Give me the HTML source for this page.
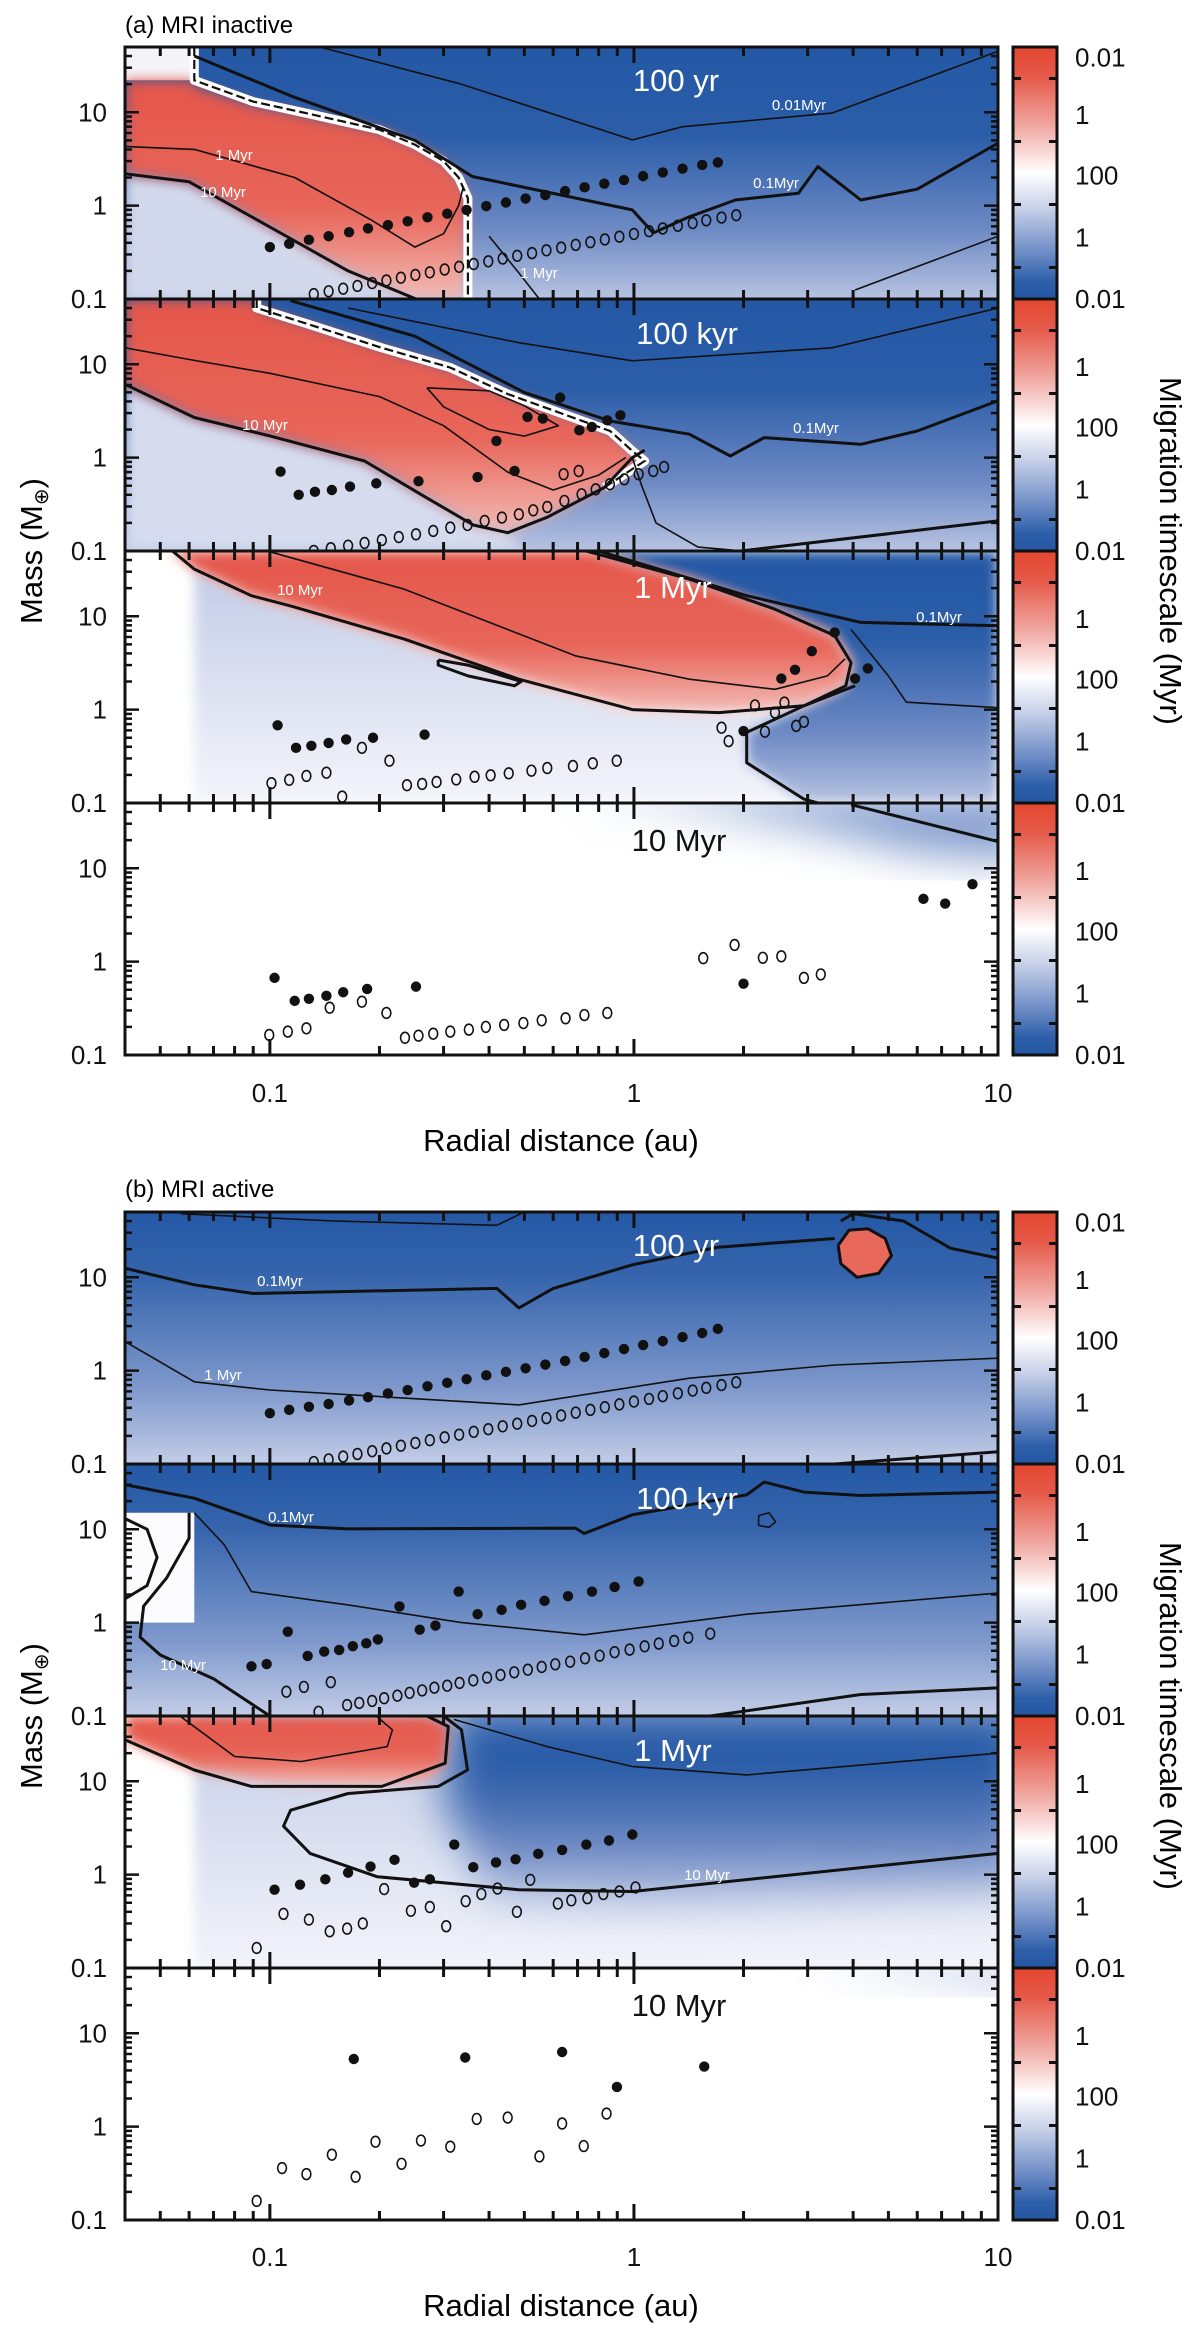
<!DOCTYPE html>
<html><head><meta charset="utf-8">
<style>
html,body{margin:0;padding:0;background:#fff}
svg{display:block}
text{font-family:"Liberation Sans",sans-serif}
</style></head>
<body>
<svg id="fig" width="1200" height="2335" viewBox="0 0 1200 2335" xmlns="http://www.w3.org/2000/svg">
<defs>
 <linearGradient id="blueGrad" x1="0" y1="0" x2="0" y2="1">
  <stop offset="0" stop-color="#2458a5"/><stop offset="0.35" stop-color="#2b5da8"/>
  <stop offset="0.72" stop-color="#6c89c4"/><stop offset="1" stop-color="#b7c3e1"/>
 </linearGradient>
 <linearGradient id="blueGradB" x1="0" y1="0" x2="0" y2="1">
  <stop offset="0" stop-color="#2458a5"/><stop offset="0.25" stop-color="#3564ac"/>
  <stop offset="0.7" stop-color="#7e98cc"/><stop offset="1" stop-color="#c3cde7"/>
 </linearGradient>
 <linearGradient id="redGrad" x1="0" y1="0" x2="0" y2="1">
  <stop offset="0" stop-color="#e4564a"/><stop offset="0.6" stop-color="#e8665a"/><stop offset="1" stop-color="#f3bcb6"/>
 </linearGradient>
 <linearGradient id="paleGrad" x1="0" y1="0" x2="0" y2="1">
  <stop offset="0" stop-color="#c3cde7"/><stop offset="1" stop-color="#f4f5fb"/>
 </linearGradient>
 <linearGradient id="cbGrad" x1="0" y1="0" x2="0" y2="1">
  <stop offset="0" stop-color="#e4472f"/><stop offset="0.12" stop-color="#e55a4a"/>
  <stop offset="0.32" stop-color="#f0aaa4"/><stop offset="0.5" stop-color="#ffffff"/>
  <stop offset="0.64" stop-color="#c7d0e8"/><stop offset="0.82" stop-color="#6c8bc5"/>
  <stop offset="0.93" stop-color="#2d5fa9"/><stop offset="1" stop-color="#2456a3"/>
 </linearGradient>
 <filter id="blur6" x="-20%" y="-20%" width="140%" height="140%"><feGaussianBlur stdDeviation="6"/></filter>
 <filter id="blur20" x="-30%" y="-30%" width="160%" height="160%"><feGaussianBlur stdDeviation="22"/></filter>
</defs>
<g id="plots"></g>

<text x="125" y="33" font-size="24">(a) MRI inactive</text>
<text x="125" y="1197" font-size="24">(b) MRI active</text>
<text x="561" y="1151" font-size="31" text-anchor="middle">Radial distance (au)</text>
<text x="561" y="2316" font-size="31" text-anchor="middle">Radial distance (au)</text>
<text transform="translate(42,551) rotate(-90)" font-size="31" text-anchor="middle">Mass (M<tspan font-size="20" dy="6">⊕</tspan><tspan dy="-6">)</tspan></text>
<text transform="translate(42,1716) rotate(-90)" font-size="31" text-anchor="middle">Mass (M<tspan font-size="20" dy="6">⊕</tspan><tspan dy="-6">)</tspan></text>
<text transform="translate(1160,551) rotate(90)" font-size="31" text-anchor="middle">Migration timescale (Myr)</text>
<text transform="translate(1160,1716) rotate(90)" font-size="31" text-anchor="middle">Migration timescale (Myr)</text>

<g font-size="31" fill="#fff" text-anchor="middle">
<text x="676" y="91">100 yr</text>
<text x="687" y="344">100 kyr</text>
<text x="673" y="598">1 Myr</text>
<text x="679" y="851" fill="#111">10 Myr</text>
<text x="676" y="1256">100 yr</text>
<text x="687" y="1509">100 kyr</text>
<text x="673" y="1761">1 Myr</text>
<text x="679" y="2016" fill="#111">10 Myr</text>
</g>
<g font-size="15" fill="#fff" text-anchor="middle">
<text x="234" y="160">1 Myr</text>
<text x="223" y="197">10 Myr</text>
<text x="799" y="110">0.01Myr</text>
<text x="776" y="188">0.1Myr</text>
<text x="539" y="278">1 Myr</text>
<text x="265" y="430">10 Myr</text>
<text x="816" y="433">0.1Myr</text>
<text x="300" y="595">10 Myr</text>
<text x="939" y="622">0.1Myr</text>
<text x="280" y="1286">0.1Myr</text>
<text x="223" y="1380">1 Myr</text>
<text x="291" y="1522">0.1Myr</text>
<text x="183" y="1670">10 Myr</text>
<text x="707" y="1880">10 Myr</text>
</g>
</svg>

<script>
// ---------- axis data ----------
const xTickVals = [0.1, 1, 10];
const xTickText = ['0.1', '1', '10'];
const yTickVals = [0.1, 1, 10];
const yTickText = ['0.1', '1', '10'];
const cbText = ['0.01', '1', '100', '1', '0.01'];

// ---------- planet data (au, Earth masses) ----------
const a1FilledX = [0.100,0.113,0.128,0.145,0.165,0.186,0.211,0.239,0.271,0.307,0.347,0.393,0.445,0.504,0.571,0.647,0.732,0.829,0.939,1.06,1.20,1.36,1.54,1.70];
const a1FilledM = [0.36,0.39,0.43,0.47,0.52,0.57,0.62,0.68,0.75,0.82,0.90,0.99,1.08,1.19,1.30,1.43,1.57,1.72,1.88,2.07,2.27,2.49,2.73,2.9];
const a1OpenX = [0.132,0.145,0.159,0.174,0.191,0.209,0.229,0.251,0.275,0.302,0.331,0.363,0.398,0.436,0.478,0.525,0.575,0.631,0.692,0.759,0.832,0.912,1.00,1.10,1.20,1.32,1.45,1.58,1.74,1.91];
const a1OpenM = [0.113,0.121,0.129,0.138,0.148,0.158,0.169,0.181,0.193,0.207,0.221,0.237,0.253,0.271,0.290,0.310,0.332,0.355,0.380,0.406,0.434,0.465,0.497,0.532,0.569,0.609,0.651,0.697,0.745,0.79];

const a2FilledX = [0.107,0.120,0.133,0.148,0.166,0.196,0.256,0.372,0.419,0.470,0.510,0.562,0.627,0.708,0.766,0.845,0.918];
const a2FilledM = [0.71,0.40,0.43,0.45,0.49,0.53,0.56,0.62,1.51,0.72,2.73,2.62,4.4,1.96,2.13,2.51,2.84];
const a2OpenX = [0.132,0.147,0.164,0.182,0.203,0.226,0.252,0.281,0.313,0.349,0.389,0.434,0.483,0.529,0.578,0.644,0.718,0.785,0.859,0.941,1.03,1.13,1.21,0.641,0.705];
const a2OpenM = [0.10,0.107,0.114,0.122,0.131,0.141,0.151,0.164,0.178,0.190,0.210,0.228,0.247,0.273,0.296,0.344,0.405,0.458,0.519,0.586,0.664,0.719,0.794,0.664,0.719];

const a3FilledX = [0.105,0.118,0.130,0.145,0.162,0.192,0.266,2.0,2.54,2.77,3.08,3.56,4.05,4.39];
const a3FilledM = [0.68,0.39,0.41,0.44,0.48,0.50,0.54,0.59,2.15,2.67,4.23,6.7,2.15,2.76];
const a3OpenX = [0.101,0.113,0.126,0.143,0.158,0.179,0.213,0.238,0.262,0.287,0.325,0.365,0.404,0.453,0.523,0.578,0.680,0.771,0.897,1.74,1.82,2.15,2.44,2.29,2.59,2.79,2.93];
const a3OpenM = [0.163,0.177,0.195,0.211,0.117,0.39,0.284,0.155,0.160,0.168,0.179,0.191,0.198,0.208,0.222,0.237,0.249,0.266,0.284,0.64,0.46,1.11,0.93,0.58,1.19,0.67,0.74];

const a4FilledX = [0.103,0.117,0.128,0.143,0.159,0.185,0.252,2.0,6.24,7.16,8.51];
const a4FilledM = [0.67,0.38,0.40,0.43,0.47,0.51,0.54,0.58,4.7,4.19,6.75];
const a4OpenX = [0.0996,0.112,0.126,0.146,0.179,0.209,0.235,0.256,0.281,0.313,0.352,0.392,0.440,0.497,0.558,0.649,0.731,0.845,1.55,1.89,2.26,2.54,2.93,3.26];
const a4OpenM = [0.164,0.178,0.193,0.321,0.372,0.282,0.153,0.161,0.169,0.178,0.187,0.200,0.210,0.220,0.235,0.247,0.268,0.282,1.09,1.51,1.10,1.14,0.67,0.73];

const b1FilledX = [0.100,0.113,0.128,0.145,0.165,0.186,0.211,0.239,0.271,0.307,0.347,0.393,0.445,0.504,0.571,0.647,0.732,0.829,0.939,1.06,1.20,1.36,1.54,1.70];
const b1FilledM = [0.35,0.38,0.41,0.44,0.48,0.52,0.57,0.62,0.68,0.74,0.81,0.89,0.97,1.06,1.16,1.27,1.40,1.54,1.70,1.88,2.07,2.29,2.53,2.8];
const b1OpenX = [0.132,0.145,0.159,0.174,0.191,0.209,0.229,0.251,0.275,0.302,0.331,0.363,0.398,0.436,0.478,0.525,0.575,0.631,0.692,0.759,0.832,0.912,1.00,1.10,1.20,1.32,1.45,1.58,1.74,1.91];
const b1OpenM = [0.105,0.112,0.120,0.128,0.137,0.147,0.157,0.168,0.180,0.193,0.206,0.221,0.236,0.253,0.270,0.289,0.310,0.331,0.355,0.380,0.406,0.435,0.466,0.498,0.533,0.571,0.611,0.654,0.700,0.75];

const b2FilledX = [0.089,0.098,0.112,0.127,0.141,0.155,0.169,0.184,0.198,0.227,0.258,0.285,0.330,0.372,0.433,0.490,0.568,0.659,0.767,0.885,1.03];
const b2FilledM = [0.34,0.36,0.80,0.44,0.49,0.51,0.56,0.60,0.66,1.49,0.84,0.93,2.15,1.23,1.37,1.55,1.71,1.92,2.15,2.41,2.76];
const b2OpenX = [0.111,0.124,0.147,0.136,0.163,0.176,0.191,0.206,0.224,0.242,0.262,0.283,0.307,0.332,0.362,0.395,0.430,0.469,0.511,0.558,0.608,0.668,0.734,0.805,0.885,0.973,1.07,1.17,1.29,1.41,1.62];
const b2OpenM = [0.182,0.205,0.230,0.111,0.131,0.138,0.145,0.155,0.165,0.177,0.188,0.201,0.211,0.226,0.241,0.258,0.275,0.294,0.313,0.335,0.358,0.382,0.415,0.443,0.482,0.514,0.558,0.596,0.637,0.691,0.762];

const b3FilledX = [0.103,0.121,0.142,0.164,0.189,0.220,0.249,0.275,0.321,0.362,0.418,0.473,0.546,0.635,0.740,0.854,0.99];
const b3FilledM = [0.69,0.78,0.89,1.05,1.22,1.44,0.82,0.89,2.10,1.20,1.35,1.46,1.67,1.84,2.10,2.32,2.69];
const b3OpenX = [0.092,0.109,0.128,0.146,0.163,0.180,0.206,0.244,0.275,0.305,0.345,0.381,0.422,0.477,0.519,0.618,0.673,0.745,0.824,0.912,1.01];
const b3OpenM = [0.164,0.38,0.33,0.247,0.264,0.30,0.70,0.41,0.45,0.28,0.52,0.62,0.71,0.40,0.88,0.49,0.53,0.56,0.62,0.66,0.73];

const b4FilledX = [0.170,0.344,0.635,0.898,1.56];
const b4FilledM = [5.3,5.5,6.3,2.66,4.4];
const b4OpenX = [0.092,0.108,0.126,0.148,0.172,0.195,0.230,0.260,0.313,0.370,0.450,0.550,0.635,0.728,0.841];
const b4OpenM = [0.16,0.36,0.31,0.50,0.29,0.69,0.40,0.71,0.61,1.21,1.25,0.48,1.08,0.62,1.38];

// ---------- field regions & contours (au, Earth masses) ----------
const a1RedRegion = [[0.04,22],[0.062,22],[0.062,19],[0.09,12],[0.13,9],[0.2,6.5],[0.25,4.5],[0.3,3],[0.33,2],[0.35,1.2],[0.34,0.1],[0.25,0.1],[0.164,0.2],[0.1,0.59],[0.06,1.8],[0.04,2.2]];
const a1PaleRegion = [[0.04,2.2],[0.06,1.8],[0.1,0.59],[0.164,0.2],[0.25,0.1],[0.04,0.1]];
const a1WhiteCorner = [[0.04,50],[0.062,50],[0.062,22],[0.04,22]];
const a1Stair = [[0.062,50],[0.062,22],[0.09,13],[0.13,9.5],[0.2,6.5],[0.25,4.5],[0.3,3],[0.33,2],[0.35,1.2],[0.35,0.1]];
const a1Thick10 = [[0.04,2.2],[0.06,1.8],[0.1,0.59],[0.164,0.2],[0.252,0.1]];
const a1Thin1 = [[0.04,4.3],[0.062,4.0],[0.117,2.0],[0.19,0.7],[0.25,0.36],[0.3,0.5],[0.33,1.0],[0.34,1.6]];
const a1Thick01 = [[0.062,40],[0.114,15],[0.25,5],[0.36,2.05],[0.99,0.9],[1.13,0.51],[1.42,0.76],[1.9,1.15],[2.83,1.36],[3.2,2.62],[4.2,1.15],[6.0,1.5],[10,4.66]];
const a1Thin001 = [[0.137,50],[0.336,20],[0.99,5.06],[1.36,7.0],[3.5,9.8],[10,45]];
const a1ThinBR1 = [[0.40,0.47],[0.483,0.19],[0.55,0.1]];
const a1ThinBR2 = [[4.05,0.125],[10,0.47]];

const a2RedRegion = [[0.04,50],[0.092,50],[0.092,40],[0.127,27],[0.203,15],[0.313,9.2],[0.45,4.8],[0.644,2.9],[0.86,1.93],[0.99,1.18],[1.07,0.92],[0.83,0.48],[0.578,0.23],[0.45,0.157],[0.362,0.19],[0.27,0.37],[0.182,0.92],[0.1,1.71],[0.062,2.69],[0.04,6.1]];
const a2PaleRegion = [[0.04,6.1],[0.062,2.69],[0.1,1.71],[0.182,0.92],[0.27,0.37],[0.362,0.19],[0.45,0.157],[0.5,0.1],[0.04,0.1]];
const a2Stair = [[0.092,50],[0.092,40],[0.127,27],[0.203,15],[0.313,9.2],[0.45,4.8],[0.644,2.9],[0.86,1.93],[0.99,1.18],[1.07,0.92],[0.83,0.48]];
const a2Thick10 = [[0.04,6.1],[0.062,2.69],[0.1,1.71],[0.182,0.92],[0.27,0.37],[0.362,0.19],[0.45,0.157],[0.578,0.23],[0.83,0.48],[0.99,1.0],[1.07,1.2]];
const a2Thin1 = [[0.04,15],[0.062,11],[0.1,8],[0.2,4.5],[0.3,2.2],[0.45,0.7],[0.6,0.45],[0.8,0.65],[0.95,1.0]];
const a2Loop = [[0.27,5.6],[0.4,5.2],[0.5,3.6],[0.62,2.2],[0.5,1.7],[0.4,2.0],[0.3,3.5],[0.27,5.6]];
const a2Thick01 = [[0.114,48],[0.25,20],[0.5,5],[0.86,2.47],[1.42,1.78],[1.84,1.04],[2.28,1.64],[4.2,1.39],[6.0,1.93],[10,4.06]];
const a2Thin001 = [[0.164,40],[0.483,17],[0.99,10.9],[3.5,15],[10,40]];
const a2ThinR = [[0.99,1.0],[1.05,0.5],[1.15,0.2],[1.5,0.11],[2,0.1]];
const a2ThickBR = [[1.97,0.1],[10,0.21]];

const a3BlueRegion = [[0.74,50],[10,50],[10,0.1],[2.93,0.1],[2.04,0.27],[2.04,0.57],[2.93,1.1],[3.82,1.8],[3.95,3.19],[3.56,6.2],[2.44,11.9],[1.42,25]];
const a3PaleRegion = [[0.062,32],[0.089,16.6],[0.114,12.9],[0.234,5.7],[0.483,2.12],[0.99,1.0],[1.71,0.93],[2.93,1.1],[2.04,0.57],[2.04,0.27],[2.93,0.1],[0.062,0.1]];
const a3RedRegion = [[0.054,50],[0.74,50],[1.42,25],[2.44,11.9],[3.56,6.2],[3.95,3.19],[3.82,1.8],[2.93,1.1],[1.71,0.93],[0.99,1.0],[0.483,2.12],[0.234,5.7],[0.114,12.9],[0.089,16.6],[0.062,32]];
const a3Thick10 = [[0.054,50],[0.062,32],[0.089,16.6],[0.114,12.9],[0.234,5.7],[0.483,2.12],[0.99,1.0],[1.71,0.93],[2.93,1.1],[3.82,1.8],[3.95,3.19],[3.56,6.2],[2.44,11.9],[1.42,25],[0.74,50]];
const a3Thin1 = [[0.1,49],[0.234,19.5],[0.69,3.77],[1.42,2.12],[2.44,1.65],[3.4,2.3],[3.8,3.5]];
const a3Thick01 = [[0.8,50],[2.04,16.6],[4.2,8.6],[10,7.9]];
const a3S = [[4.05,1.8],[2.93,1.1],[2.04,0.57],[2.04,0.27],[2.93,0.11],[3.2,0.1]];
const a3ThinR = [[3.95,7.2],[5.0,2.3],[5.6,1.2],[10,1.05]];
const a3Loop = [[0.29,3.4],[0.35,3.0],[0.49,2.0],[0.47,1.8],[0.35,2.3],[0.29,3.0],[0.29,3.4]];

const a4Fog = [[0.7,60],[12,60],[12,12],[6,15],[3,28],[1.5,45]];
const a4Thick = [[3.95,48],[10,19.3]];

const b1Blob = [[3.64,22],[3.9,32],[4.4,33],[4.9,26],[5.1,17],[4.7,11],[4.1,10],[3.7,14]];
const b1Thick01 = [[0.04,12.5],[0.062,8.3],[0.09,6.7],[0.42,7.6],[0.483,4.7],[0.6,7.6],[0.99,13.6],[1.7,21],[3.56,26]];
const b1Thick01b = [[3.7,40],[4.0,48],[5.5,40],[7.4,20.5],[10,16]];
const b1Thin = [[0.057,48],[0.15,40],[0.42,36],[0.5,50]];
const b1Thin1 = [[0.04,2.05],[0.062,0.76],[0.1,0.62],[0.483,0.43],[1.42,0.83],[3.56,1.15],[10,1.36]];
const b1ThickBR = [[3.56,0.1],[10,0.135]];

const b2WhiteRegion = [[0.04,15],[0.062,15],[0.062,1.0],[0.04,1.0]];
const b2Thick01 = [[0.04,30],[0.062,21.5],[0.1,11.1],[0.164,10.1],[0.69,10.3],[0.73,9.0],[0.99,14.3],[2.04,23.4],[2.28,32],[2.93,25],[4.2,23],[10,25]];
const b2Thin = [[0.062,15],[0.075,6.8],[0.089,2.15],[0.164,1.55],[0.336,1.0],[0.73,0.74],[2.04,1.23],[10,2.07]];
const b2Thick10 = [[0.06,15],[0.06,8],[0.052,3],[0.045,1.5],[0.044,0.7],[0.05,0.45],[0.07,0.25],[0.1,0.1]];
const b2Inner = [[0.04,13],[0.046,10],[0.049,5],[0.046,2.5],[0.04,1.8]];
const b2Small = [[2.2,14],[2.35,15],[2.45,12],[2.35,10.5],[2.2,11],[2.2,14]];
const b2ThickBR = [[1.62,0.1],[4.2,0.17],[10,0.2]];

const b3PaleRegion = [[0.062,60],[12,60],[12,0.08],[0.062,0.08]];
const b3BlueRegion = [[0.32,60],[12,60],[12,0.7],[0.99,0.5],[0.4,0.6],[0.3,6]];
const b3RedRegion = [[0.04,50],[0.27,50],[0.309,38.6],[0.303,15.6],[0.27,10],[0.203,8.8],[0.1,9.5],[0.062,13.2],[0.04,27.8]];
const b3Thick1 = [[0.04,27.8],[0.062,13.2],[0.089,8.8],[0.203,8.8],[0.303,15.6],[0.309,38.6],[0.27,50]];
const b3Thin = [[0.057,49],[0.08,18.4],[0.122,16.3],[0.21,23.5],[0.217,35.6],[0.196,50]];
const b3Thick10 = [[0.3,50],[0.336,35.6],[0.349,13.2],[0.29,8.8],[0.164,7.4],[0.114,4.9],[0.109,3.3],[0.129,1.69],[0.197,0.95],[0.483,0.69],[0.99,0.66],[10,1.69]];
const b3ThinR = [[0.32,46],[0.578,23.5],[0.99,14.4],[2.04,11.7],[10,20]];

const b4Fog = [[3,60],[12,60],[12,30]];

// ---------- scales ----------
const X0 = 125, X1 = 998, H = 252;
const XMINL = Math.log10(0.04), XMAXL = 1;
const YMINL = -1, YMAXL = Math.log10(50);
function sx(a){ return X0 + (Math.log10(a) - XMINL) / (XMAXL - XMINL) * (X1 - X0); }
function sy(m, top){ return top + H - (Math.log10(m) - YMINL) / (YMAXL - YMINL) * H; }

const NS = 'http://www.w3.org/2000/svg';
const root = document.getElementById('plots');
function mk(tag, attrs, parent){
  const e = document.createElementNS(NS, tag);
  for (const k in attrs) e.setAttribute(k, attrs[k]);
  (parent || root).appendChild(e);
  return e;
}
function pathD(pts, top, close){
  let d = pts.map((p,i)=> (i?'L':'M') + sx(p[0]).toFixed(1) + ',' + sy(p[1],top).toFixed(1)).join(' ');
  return close ? d + ' Z' : d;
}

const panels = [
  {id:'a1', top:47, base:'url(#blueGrad)',
   regions:[[a1PaleRegion,'#d3d9ec','blur6'],[a1WhiteCorner,'#f4f4f8',''],[a1RedRegion,'url(#redGrad)','blur6']],
   stairs:[a1Stair],
   lines:[[a1Thick10,3],[a1Thin1,1.6],[a1Thick01,3],[a1Thin001,1.6],[a1ThinBR1,1.6],[a1ThinBR2,1.6]],
   fx:a1FilledX, fm:a1FilledM, ox:a1OpenX, om:a1OpenM},
  {id:'a2', top:299, base:'url(#blueGrad)',
   regions:[[a2PaleRegion,'#d6dcee','blur6'],[a2RedRegion,'url(#redGrad)','blur6']],
   stairs:[a2Stair],
   lines:[[a2Thick10,3],[a2Thin1,1.6],[a2Loop,1.6],[a2Thick01,3],[a2Thin001,1.6],[a2ThinR,1.6],[a2ThickBR,3]],
   fx:a2FilledX, fm:a2FilledM, ox:a2OpenX, om:a2OpenM},
  {id:'a3', top:551, base:'#ffffff',
   regions:[[a3PaleRegion,'url(#paleGrad)','blur6'],[a3BlueRegion,'url(#blueGrad)','blur6'],[a3RedRegion,'url(#redGrad)','blur6']],
   stairs:[],
   lines:[[a3Thick10,3],[a3Thin1,1.6],[a3Thick01,3],[a3S,3],[a3ThinR,1.6],[a3Loop,3]],
   fx:a3FilledX, fm:a3FilledM, ox:a3OpenX, om:a3OpenM},
  {id:'a4', top:803, base:'#ffffff',
   regions:[[a4Fog,'#7f99cc','blur20']],
   stairs:[],
   lines:[[a4Thick,3]],
   fx:a4FilledX, fm:a4FilledM, ox:a4OpenX, om:a4OpenM},
  {id:'b1', top:1212, base:'url(#blueGradB)',
   regions:[[b1Blob,'#e8685c','']],
   stairs:[],
   lines:[[b1Blob.concat([b1Blob[0]]),3],[b1Thick01,3],[b1Thick01b,3],[b1Thin,1.6],[b1Thin1,1.6],[b1ThickBR,3]],
   fx:b1FilledX, fm:b1FilledM, ox:b1OpenX, om:b1OpenM},
  {id:'b2', top:1464, base:'url(#blueGradB)',
   regions:[[b2WhiteRegion,'#fbfbfd','']],
   stairs:[],
   lines:[[b2Thick01,3],[b2Thin,1.6],[b2Thick10,3],[b2Inner,3],[b2Small,1.6],[b2ThickBR,3]],
   fx:b2FilledX, fm:b2FilledM, ox:b2OpenX, om:b2OpenM},
  {id:'b3', top:1716, base:'#ffffff',
   regions:[[b3PaleRegion,'url(#paleGrad)','blur6'],[b3BlueRegion,'url(#blueGrad)','blur20'],[b3RedRegion,'url(#redGrad)','blur6']],
   stairs:[],
   lines:[[b3Thick1,3],[b3Thin,1.6],[b3Thick10,3],[b3ThinR,1.6]],
   fx:b3FilledX, fm:b3FilledM, ox:b3OpenX, om:b3OpenM},
  {id:'b4', top:1968, base:'#ffffff',
   regions:[[b4Fog,'#b9c6e4','blur20']],
   stairs:[],
   lines:[],
   fx:b4FilledX, fm:b4FilledM, ox:b4OpenX, om:b4OpenM}
];

const defs = document.querySelector('defs');
const minorX = [0.05,0.06,0.07,0.08,0.09,0.2,0.3,0.4,0.5,0.6,0.7,0.8,0.9,2,3,4,5,6,7,8,9];
const minorY = [0.2,0.3,0.4,0.5,0.6,0.7,0.8,0.9,2,3,4,5,6,7,8,9,20,30,40,50];

panels.forEach((p, pi) => {
  const top = p.top;
  const cp = mk('clipPath', {id:'clip-'+p.id}, defs);
  mk('rect', {x:X0, y:top, width:X1-X0, height:H}, cp);
  const g = mk('g', {'clip-path':'url(#clip-'+p.id+')'});
  
  
  mk('rect', {x:X0, y:top, width:X1-X0, height:H, fill:p.base}, g);
  p.regions.forEach(r => {
    const e = mk('path', {d:pathD(r[0], top, true), fill:r[1]}, g);
    if (r[2]) e.setAttribute('filter', 'url(#'+r[2]+')');
    
    
  });
  p.stairs.forEach(s => {
    mk('path', {d:pathD(s, top, false), fill:'none', stroke:'#fff', 'stroke-width':9, 'stroke-linejoin':'round'}, g);
    const e = mk('path', {d:pathD(s, top, false), fill:'none', stroke:'#111', 'stroke-width':2.2, 'stroke-dasharray':'9 4'}, g);
    
    
  });
  p.lines.forEach(l => {
    const e = mk('path', {d:pathD(l[0], top, false), fill:'none', stroke:'#111', 'stroke-width':l[1], 'stroke-linejoin':'round'}, g);
    
    
  });
  p.fx.forEach((x,i) => {
    const c = mk('circle', {cx:sx(x), cy:sy(p.fm[i],top), r:5.2, fill:'#111'}, g);
    
    
  });
  p.ox.forEach((x,i) => {
    const c = mk('ellipse', {cx:sx(x), cy:sy(p.om[i],top), rx:4.4, ry:5.4, fill:'none', stroke:'#111', 'stroke-width':1.6}, g);
    
    
  });
  const fr = mk('rect', {x:X0, y:top, width:X1-X0, height:H, fill:'none', stroke:'#111', 'stroke-width':3});
  
  
  const tg = mk('g', {stroke:'#111', 'stroke-width':3});
  
  
  xTickVals.forEach(v => {
    const X = sx(v);
    mk('line', {x1:X, y1:top, x2:X, y2:top+16}, tg);
    mk('line', {x1:X, y1:top+H, x2:X, y2:top+H-16}, tg);
  });
  minorX.forEach(v => {
    const X = sx(v);
    mk('line', {x1:X, y1:top, x2:X, y2:top+9}, tg);
    mk('line', {x1:X, y1:top+H, x2:X, y2:top+H-9}, tg);
  });
  const yg = mk('g', {stroke:'#111', 'stroke-width':2.5});
  
  
  yTickVals.forEach((v,i) => {
    const Y = sy(v, top);
    mk('line', {x1:X0, y1:Y, x2:X0+14, y2:Y}, yg);
    mk('line', {x1:X1, y1:Y, x2:X1-14, y2:Y}, yg);
    const t = mk('text', {x:107, y:Y+9, 'font-size':26, 'text-anchor':'end', fill:'#111', stroke:'none'});
    t.textContent = yTickText[i];
    
    
  });
  minorY.forEach(v => {
    const Y = sy(v, top);
    mk('line', {x1:X0, y1:Y, x2:X0+7, y2:Y}, yg);
    mk('line', {x1:X1, y1:Y, x2:X1-7, y2:Y}, yg);
  });
  const cb = mk('rect', {x:1013, y:top, width:44, height:H, fill:'url(#cbGrad)', stroke:'#111', 'stroke-width':3});
  
  
  const cg = mk('g', {stroke:'#111', 'stroke-width':3});
  [0.125,0.375,0.625,0.875].forEach(f => {
    const Y = top + f*H;
    mk('line', {x1:1013, y1:Y, x2:1021, y2:Y}, cg);
    mk('line', {x1:1057, y1:Y, x2:1049, y2:Y}, cg);
  });
  const firstOfGroup = (pi % 4 === 0);
  const cf = [0.03, 0.27, 0.51, 0.755, 1.0];
  cbText.forEach((s,i) => {
    if (i === 0 && !firstOfGroup) return;
    const t = mk('text', {x:1075, y:top + cf[i]*H + (i===0 ? 12 : 9), 'font-size':26, fill:'#111'});
    t.textContent = s;
    
    
  });
});

[1056, 2220].forEach(bot => {
  xTickVals.forEach((v,i) => {
    const t = mk('text', {x:sx(v), y:bot+46, 'font-size':26, 'text-anchor':'middle', fill:'#111'});
    t.textContent = xTickText[i];
    
    
  });
});
</script>
</body></html>
